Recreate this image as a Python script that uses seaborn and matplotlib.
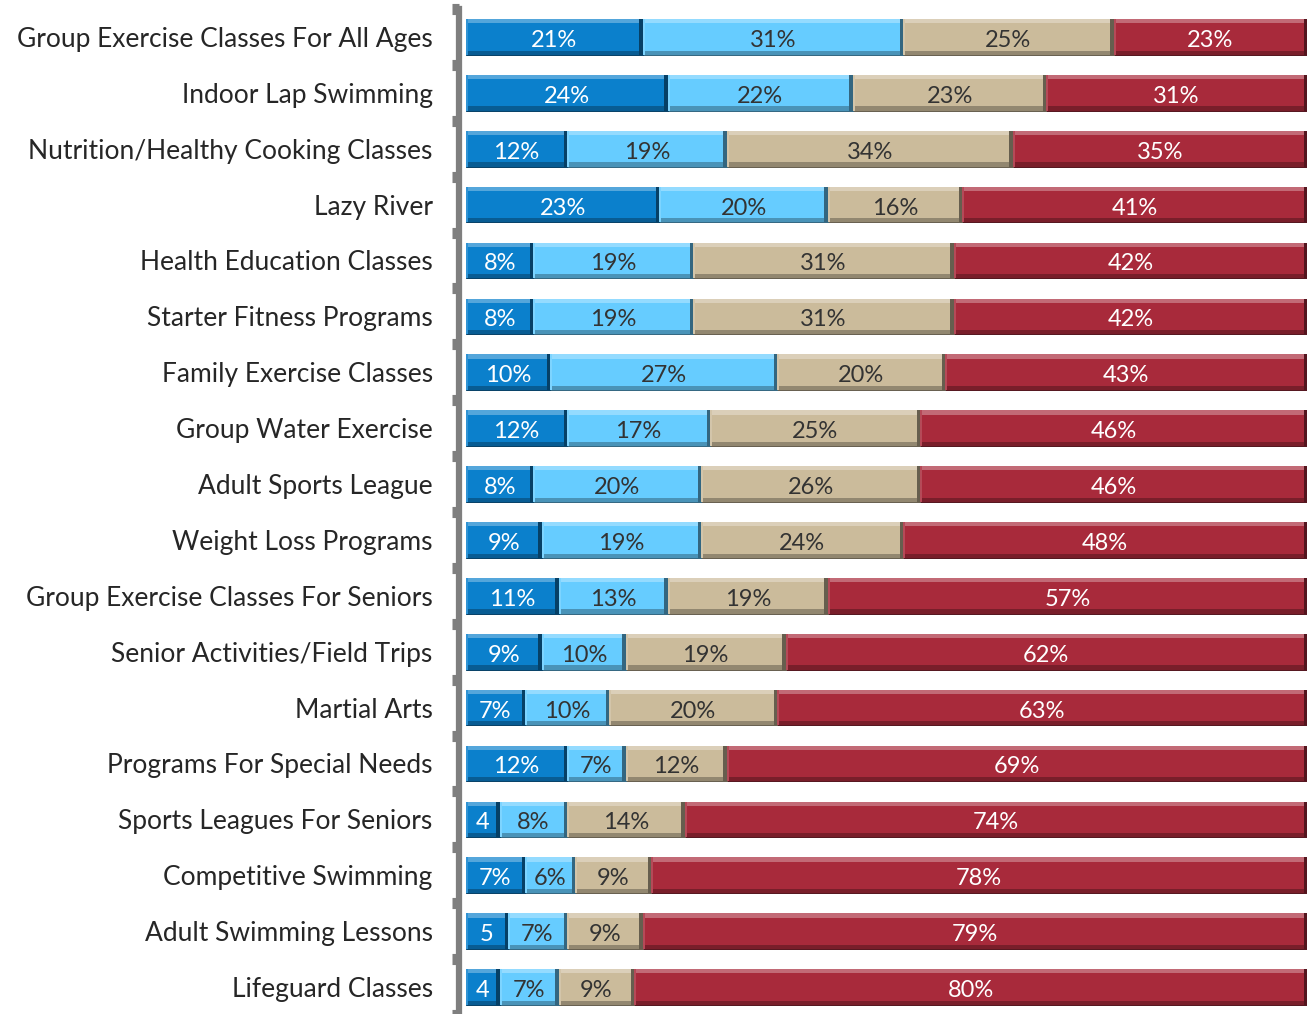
import numpy as np
import pandas as pd
import matplotlib.pyplot as plt
from matplotlib.patches import Rectangle
import matplotlib.colors as mcolors
import seaborn as sns

activities = [
    "Group Exercise Classes For All Ages", "Indoor Lap Swimming",
    "Nutrition/Healthy Cooking Classes", "Lazy River", "Health Education Classes",
    "Starter Fitness Programs", "Family Exercise Classes", "Group Water Exercise",
    "Adult Sports League", "Weight Loss Programs", "Group Exercise Classes For Seniors",
    "Senior Activities/Field Trips", "Martial Arts", "Programs For Special Needs",
    "Sports Leagues For Seniors", "Competitive Swimming", "Adult Swimming Lessons",
    "Lifeguard Classes",
]
levels = ["level_1", "level_2", "level_3", "level_4"]
level_1 = [21, 24, 12, 23, 8, 8, 10, 12, 8, 9, 11, 9, 7, 12, 4, 7, 5, 4]
level_2 = [31, 22, 19, 20, 19, 19, 27, 17, 20, 19, 13, 10, 10, 7, 8, 6, 7, 7]
level_3 = [25, 23, 34, 16, 31, 31, 20, 25, 26, 24, 19, 19, 20, 12, 14, 9, 9, 9]
level_4 = [23, 31, 35, 41, 42, 42, 43, 46, 46, 48, 57, 62, 63, 69, 74, 78, 79, 80]

colors = {"level_1": "#0B80CC", "level_2": "#66CCFF",
          "level_3": "#CBBB9B", "level_4": "#A82A3B"}
text_colors = {"level_1": "white", "level_2": "#333333",
               "level_3": "#333333", "level_4": "white"}

vals = np.array([level_1, level_2, level_3, level_4])
cum = vals.cumsum(axis=0)
rows = []
for li, lev in enumerate(levels):
    for ai, act in enumerate(activities):
        rows.append({"activity": act, "level": lev,
                     "value": vals[li, ai], "end": cum[li, ai]})
df = pd.DataFrame(rows)

sns.set_style("white")
plt.rcParams["font.family"] = ["Lato", "DejaVu Sans"]

fig = plt.figure(figsize=(13.1, 10.14), dpi=100)
ax = fig.add_axes([466 / 1310, -1 / 1014, 841 / 1310, 1006 / 1014])

# draw cumulative ends, widest first, so each level overlays the previous one
draw_order = levels[::-1]
sns.barplot(data=df, x="end", y="activity", hue="level", hue_order=draw_order,
            palette=colors, dodge=False, orient="h", width=0.64,
            order=activities, legend=False, ax=ax, saturation=1, errorbar=None)


def shade(c, f):
    r = np.array(mcolors.to_rgb(c))
    return tuple(r * f) if f < 1 else tuple(r + (1 - r) * (f - 1))


# turn cumulative bars into segments and add a bevel look
for lev, cont in zip(draw_order, ax.containers):
    sub = df[df.level == lev].set_index("activity").loc[activities]
    for bar, v in zip(cont, sub["value"]):
        w = bar.get_width()
        bar.set_x(w - v)
        bar.set_width(v)
        bar.set_edgecolor(shade(colors[lev], 0.5))
        bar.set_linewidth(0.7)
        x0, y0 = bar.get_x(), bar.get_y()
        h = bar.get_height()
        bh, bw = h * 0.12, 0.4
        z = bar.get_zorder()
        ax.add_patch(Rectangle((x0, y0), v, bh, color=shade(colors[lev], 1.3),
                               lw=0, zorder=z + 0.1))
        ax.add_patch(Rectangle((x0, y0 + h - bh), v, bh, color=shade(colors[lev], 0.72),
                               lw=0, zorder=z + 0.1))
        ax.add_patch(Rectangle((x0 + v - bw, y0), bw, h, color=shade(colors[lev], 0.5),
                               lw=0, zorder=z + 0.2))
        ax.add_patch(Rectangle((x0, y0), bw * 0.6, h, color=shade(colors[lev], 1.15),
                               lw=0, zorder=z + 0.2))
    labels = [f"{v}%" if v >= 6 else f"{v}" for v in sub["value"]]
    ax.bar_label(cont, labels=labels, label_type="center", fontsize=17,
                 color=text_colors[lev])

for t in ax.texts:
    t.set_zorder(10)
    t.xyann = (0, -2.5)

ax.set_xlim(0, 100)
ax.set_ylim(len(activities) - 0.5, -0.5)
ax.set_xlabel("")
ax.set_ylabel("")
ax.set_xticks([])
ax.tick_params(axis="y", length=0, labelsize=19, labelcolor="#262626", pad=19)
ax.set_yticks(np.arange(-0.5, len(activities), 1.0), minor=True)
ax.tick_params(axis="y", which="minor", left=True, length=5, width=8,
               color="#7F7F7F", direction="out")
for s in ["top", "right", "bottom"]:
    ax.spines[s].set_visible(False)
ax.spines["left"].set_position(("outward", 5))
ax.spines["left"].set_linewidth(4.5)
ax.spines["left"].set_color("#7F7F7F")

fig.savefig("out.png", dpi=100)
